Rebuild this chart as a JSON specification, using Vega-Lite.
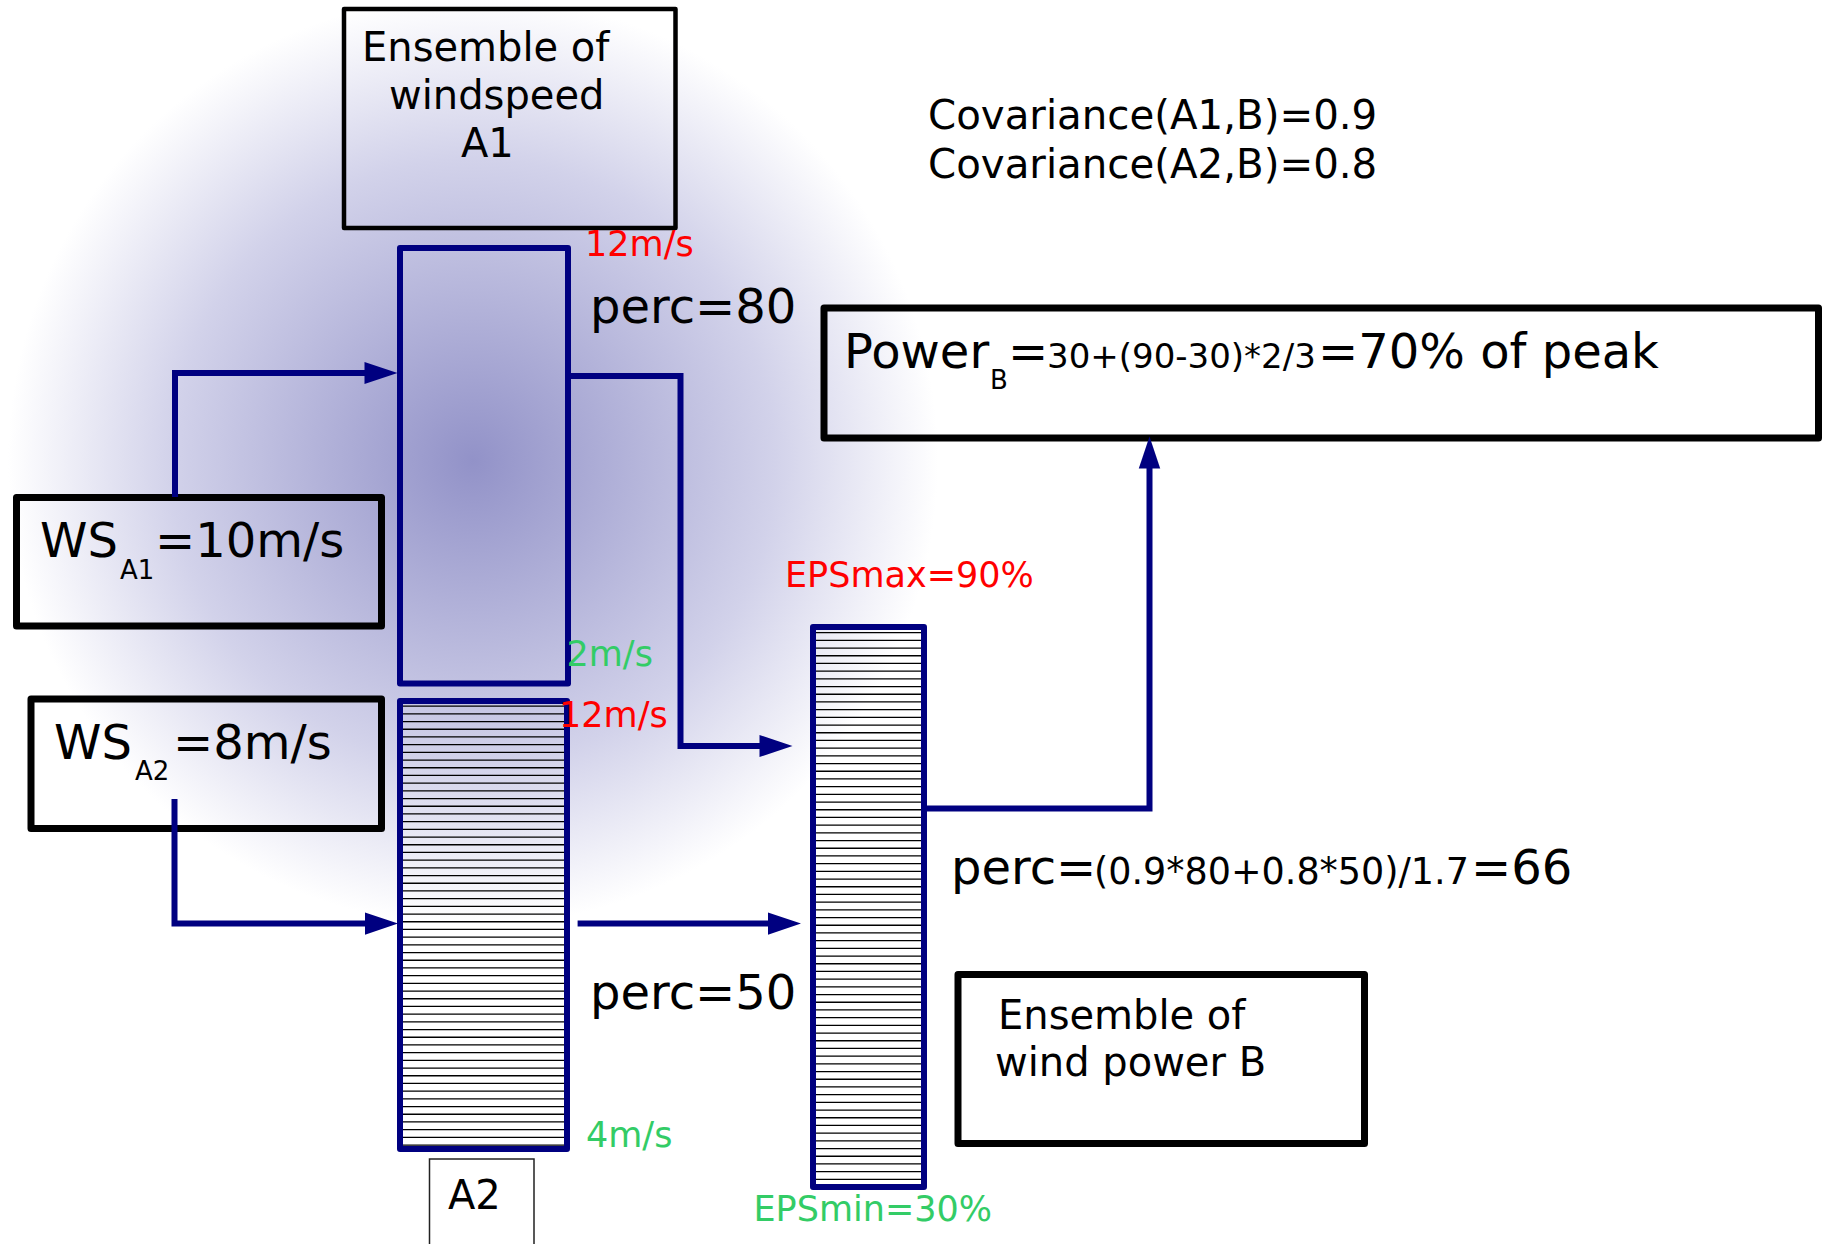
{
  "$schema": "https://vega.github.io/schema/vega-lite/v6.json",
  "width": 1830,
  "height": 1244,
  "autosize": {"type": "none"},
  "padding": 0,
  "background": "white",
  "config": {"view": {"stroke": null}},
  "datasets": {
    "glow": [{"x": 8, "x2": 938, "y": -4, "y2": 926}],
    "rects": [
      {"id": "ws_a1", "kind": "box", "x": 16.5, "x2": 381.5, "y": 497.5, "y2": 626},
      {"id": "ws_a2", "kind": "box", "x": 31, "x2": 381.5, "y": 699, "y2": 828.5},
      {"id": "power", "kind": "box", "x": 824, "x2": 1818.5, "y": 308, "y2": 438},
      {"id": "ens_b", "kind": "box", "x": 958, "x2": 1364.5, "y": 974.5, "y2": 1143.5},
      {"id": "ens_a1", "kind": "title", "x": 344, "x2": 675.5, "y": 9, "y2": 228},
      {"id": "a2_label", "kind": "label", "x": 429.5, "x2": 534, "y": 1159, "y2": 1262},
      {"id": "A1", "kind": "bar", "x": 400, "x2": 568, "y": 248, "y2": 683.5},
      {"id": "A2", "kind": "bar", "x": 400, "x2": 567, "y": 701, "y2": 1149},
      {"id": "EPS", "kind": "bar", "x": 813, "x2": 924, "y": 627, "y2": 1187}
    ],
    "hatch": [
      {"id": "A2", "x": 483.5, "y": 704, "y2": 1146},
      {"id": "EPS", "x": 868.5, "y": 630, "y2": 1184}
    ],
    "paths": [
      {"path": "p1", "ord": 1, "x": 175, "y": 497},
      {"path": "p1", "ord": 2, "x": 175, "y": 373},
      {"path": "p1", "ord": 3, "x": 381, "y": 373},
      {"path": "p2", "ord": 1, "x": 568, "y": 376},
      {"path": "p2", "ord": 2, "x": 680.5, "y": 376},
      {"path": "p2", "ord": 3, "x": 680.5, "y": 746},
      {"path": "p2", "ord": 4, "x": 776, "y": 746},
      {"path": "p3", "ord": 1, "x": 174.5, "y": 799},
      {"path": "p3", "ord": 2, "x": 174.5, "y": 923.6},
      {"path": "p3", "ord": 3, "x": 381.5, "y": 923.6},
      {"path": "p4", "ord": 1, "x": 577.6, "y": 923.6},
      {"path": "p4", "ord": 2, "x": 784.5, "y": 923.6},
      {"path": "p5", "ord": 1, "x": 924, "y": 808.5},
      {"path": "p5", "ord": 2, "x": 1149.5, "y": 808.5},
      {"path": "p5", "ord": 3, "x": 1149.5, "y": 452.5}
    ],
    "arrows": [
      {"dir": "right", "x": 381, "y": 373},
      {"dir": "right", "x": 776, "y": 746},
      {"dir": "right", "x": 381.5, "y": 923.6},
      {"dir": "right", "x": 784.5, "y": 923.6},
      {"dir": "up", "x": 1149.5, "y": 452.5}
    ],
    "texts": [
      {"t": "Ensemble of", "cls": "title", "x": 362, "y": 61},
      {"t": "windspeed", "cls": "title", "x": 389, "y": 109},
      {"t": "A1", "cls": "title", "x": 461, "y": 157},
      {"t": "Ensemble of", "cls": "title", "x": 998, "y": 1029},
      {"t": "wind power B", "cls": "title", "x": 995, "y": 1076},
      {"t": "A2", "cls": "title", "x": 448, "y": 1208.5},
      {"t": "WS", "cls": "big", "x": 40, "y": 557},
      {"t": "=10m/s", "cls": "big", "x": 155, "y": 557},
      {"t": "WS", "cls": "big", "x": 54, "y": 759},
      {"t": "=8m/s", "cls": "big", "x": 173, "y": 759},
      {"t": "perc=80", "cls": "big", "x": 590, "y": 323},
      {"t": "perc=50", "cls": "big", "x": 590, "y": 1009},
      {"t": "Power", "cls": "big", "x": 844, "y": 368},
      {"t": "=", "cls": "big", "x": 1008, "y": 368},
      {"t": "=70% of peak", "cls": "big", "x": 1318, "y": 368},
      {"t": "perc=", "cls": "big", "x": 951, "y": 884},
      {"t": "=66", "cls": "big", "x": 1471, "y": 884},
      {"t": "Covariance(A1,B)=0.9", "cls": "cov", "x": 928, "y": 129},
      {"t": "Covariance(A2,B)=0.8", "cls": "cov", "x": 928, "y": 178},
      {"t": "30+(90-30)*2/3", "cls": "mid", "x": 1047, "y": 368},
      {"t": "(0.9*80+0.8*50)/1.7", "cls": "mid2", "x": 1094, "y": 884},
      {"t": "A1", "cls": "sub", "x": 120, "y": 579},
      {"t": "A2", "cls": "sub", "x": 135, "y": 780},
      {"t": "B", "cls": "sub", "x": 990, "y": 389},
      {"t": "12m/s", "cls": "red", "x": 585, "y": 256},
      {"t": "12m/s", "cls": "red", "x": 559, "y": 727},
      {"t": "EPSmax=90%", "cls": "red", "x": 785, "y": 586.5},
      {"t": "2m/s", "cls": "green", "x": 566.5, "y": 666},
      {"t": "4m/s", "cls": "green", "x": 586, "y": 1147},
      {"t": "EPSmin=30%", "cls": "green", "x": 753.5, "y": 1221}
    ]
  },
  "encoding": {
    "x": {"field": "x", "type": "quantitative", "scale": {"domain": [0, 1830], "zero": false, "nice": false}, "axis": null},
    "y": {"field": "y", "type": "quantitative", "scale": {"domain": [0, 1244], "zero": false, "nice": false, "reverse": true}, "axis": null}
  },
  "layer": [
    {
      "data": {"name": "glow"},
      "mark": {"type": "rect", "fill": {"gradient": "radial", "x1": 0.5, "y1": 0.5, "r1": 0, "x2": 0.5, "y2": 0.5, "r2": 0.5, "stops": [{"offset": 0, "color": "#9292c8"}, {"offset": 0.65, "color": "#d2d2ea"}, {"offset": 1, "color": "#ffffff"}]}, "strokeWidth": 0},
      "encoding": {"x2": {"field": "x2"}, "y2": {"field": "y2"}}
    },
    {
      "data": {"name": "hatch"},
      "transform": [{"filter": "datum.id === 'A2'"}],
      "mark": {"type": "rule", "color": "#000000", "strokeWidth": 161, "strokeDash": [1.3, 6.4], "strokeCap": "butt", "strokeDashOffset": -1.5},
      "encoding": {"y2": {"field": "y2"}}
    },
    {
      "data": {"name": "hatch"},
      "transform": [{"filter": "datum.id === 'EPS'"}],
      "mark": {"type": "rule", "color": "#000000", "strokeWidth": 105, "strokeDash": [1.3, 6.4], "strokeCap": "butt", "strokeDashOffset": -2},
      "encoding": {"y2": {"field": "y2"}}
    },
    {
      "data": {"name": "rects"},
      "transform": [{"filter": "datum.kind === 'box'"}],
      "mark": {"type": "rect", "fill": null, "fillOpacity": 0, "stroke": "#000000", "strokeWidth": 7, "strokeJoin": "round"},
      "encoding": {"x2": {"field": "x2"}, "y2": {"field": "y2"}}
    },
    {
      "data": {"name": "rects"},
      "transform": [{"filter": "datum.kind === 'title'"}],
      "mark": {"type": "rect", "fill": null, "fillOpacity": 0, "stroke": "#000000", "strokeWidth": 4.5, "strokeJoin": "round"},
      "encoding": {"x2": {"field": "x2"}, "y2": {"field": "y2"}}
    },
    {
      "data": {"name": "rects"},
      "transform": [{"filter": "datum.kind === 'label'"}],
      "mark": {"type": "rect", "fill": null, "fillOpacity": 0, "stroke": "#222222", "strokeWidth": 1.5},
      "encoding": {"x2": {"field": "x2"}, "y2": {"field": "y2"}}
    },
    {
      "data": {"name": "rects"},
      "transform": [{"filter": "datum.kind === 'bar'"}],
      "mark": {"type": "rect", "fill": null, "fillOpacity": 0, "stroke": "#000080", "strokeWidth": 6, "strokeJoin": "round"},
      "encoding": {"x2": {"field": "x2"}, "y2": {"field": "y2"}}
    },
    {
      "data": {"name": "paths"},
      "mark": {"type": "line", "color": "#000080", "strokeWidth": 6, "strokeJoin": "miter", "strokeCap": "butt"},
      "encoding": {"detail": {"field": "path"}, "order": {"field": "ord", "type": "quantitative"}}
    },
    {
      "data": {"name": "arrows"},
      "transform": [{"filter": "datum.dir === 'right'"}],
      "mark": {"type": "point", "shape": "M -1 -0.67 L 1 0 L -1 0.67 Z", "size": 1089, "filled": true, "color": "#000080", "opacity": 1, "strokeWidth": 0}
    },
    {
      "data": {"name": "arrows"},
      "transform": [{"filter": "datum.dir === 'up'"}],
      "mark": {"type": "point", "shape": "M -0.67 1 L 0 -1 L 0.67 1 Z", "size": 1024, "filled": true, "color": "#000080", "opacity": 1, "strokeWidth": 0}
    },
    {
      "data": {"name": "texts"},
      "transform": [{"filter": "datum.cls === 'title'"}],
      "mark": {"type": "text", "font": "DejaVu Sans", "fontSize": 40, "align": "left", "baseline": "alphabetic", "color": "#000000"},
      "encoding": {"text": {"field": "t"}}
    },
    {
      "data": {"name": "texts"},
      "transform": [{"filter": "datum.cls === 'big'"}],
      "mark": {"type": "text", "font": "DejaVu Sans", "fontSize": 48, "align": "left", "baseline": "alphabetic", "color": "#000000"},
      "encoding": {"text": {"field": "t"}}
    },
    {
      "data": {"name": "texts"},
      "transform": [{"filter": "datum.cls === 'cov'"}],
      "mark": {"type": "text", "font": "DejaVu Sans", "fontSize": 40.3, "align": "left", "baseline": "alphabetic", "color": "#000000"},
      "encoding": {"text": {"field": "t"}}
    },
    {
      "data": {"name": "texts"},
      "transform": [{"filter": "datum.cls === 'mid'"}],
      "mark": {"type": "text", "font": "DejaVu Sans", "fontSize": 34, "align": "left", "baseline": "alphabetic", "color": "#000000"},
      "encoding": {"text": {"field": "t"}}
    },
    {
      "data": {"name": "texts"},
      "transform": [{"filter": "datum.cls === 'mid2'"}],
      "mark": {"type": "text", "font": "DejaVu Sans", "fontSize": 36.5, "align": "left", "baseline": "alphabetic", "color": "#000000"},
      "encoding": {"text": {"field": "t"}}
    },
    {
      "data": {"name": "texts"},
      "transform": [{"filter": "datum.cls === 'sub'"}],
      "mark": {"type": "text", "font": "DejaVu Sans", "fontSize": 26, "align": "left", "baseline": "alphabetic", "color": "#000000"},
      "encoding": {"text": {"field": "t"}}
    },
    {
      "data": {"name": "texts"},
      "transform": [{"filter": "datum.cls === 'red'"}],
      "mark": {"type": "text", "font": "DejaVu Sans", "fontSize": 35, "align": "left", "baseline": "alphabetic", "color": "#ff0000"},
      "encoding": {"text": {"field": "t"}}
    },
    {
      "data": {"name": "texts"},
      "transform": [{"filter": "datum.cls === 'green'"}],
      "mark": {"type": "text", "font": "DejaVu Sans", "fontSize": 35, "align": "left", "baseline": "alphabetic", "color": "#33cc66"},
      "encoding": {"text": {"field": "t"}}
    }
  ]
}
